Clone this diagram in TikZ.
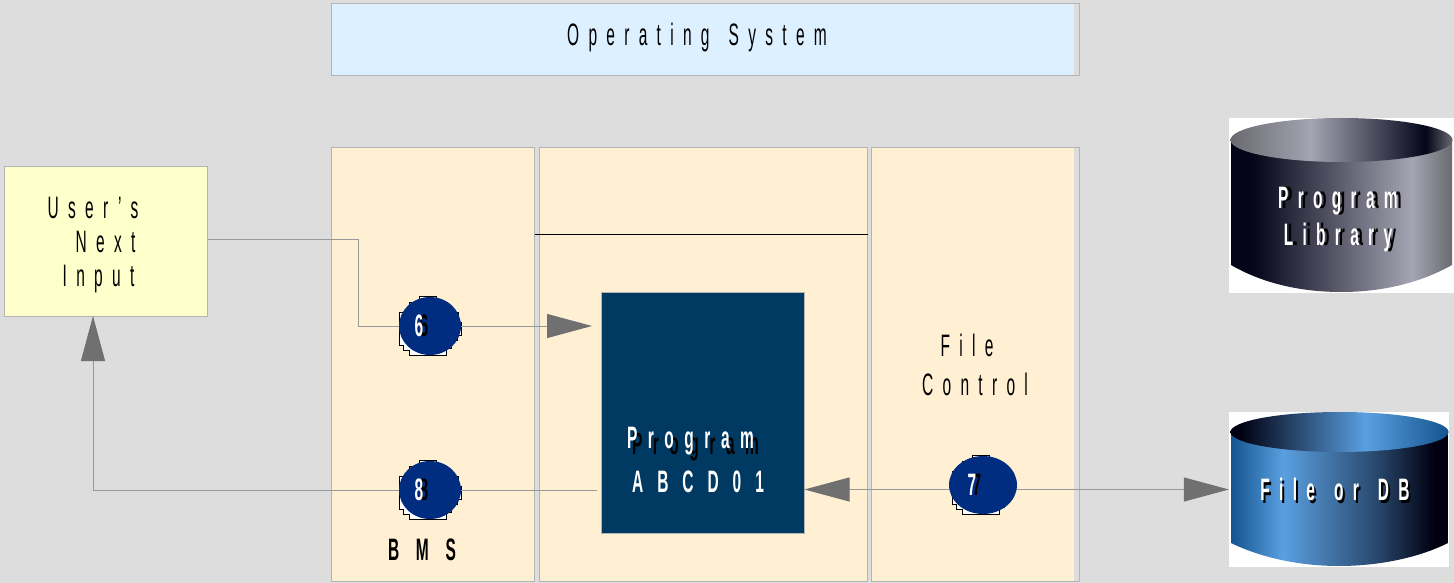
\documentclass[tikz,border=0pt]{standalone}
\usepackage{fontspec}
\usepackage{xcolor}
\usetikzlibrary{arrows.meta,shapes.geometric}
\setmainfont{Liberation Sans}[FakeStretch=0.5,LetterSpace=30,WordSpace=1.4]
\definecolor{pagegray}{HTML}{DDDDDD}
\definecolor{panelcream}{HTML}{FFF0D4}
\definecolor{panelline}{HTML}{B4B4B4}
\definecolor{osblue}{HTML}{DDF0FF}
\definecolor{inputyellow}{HTML}{FFFFCC}
\definecolor{progblue}{HTML}{003A63}
\definecolor{discblue}{HTML}{002D80}
\definecolor{flowline}{HTML}{999999}
\definecolor{tipgray}{HTML}{707070}
\definecolor{libdark}{HTML}{05051A}
\definecolor{liblight}{HTML}{A4A4B2}
\definecolor{libgray}{HTML}{6A6A70}
\definecolor{dbdark}{HTML}{000010}
\definecolor{dblight}{HTML}{5A9FE0}
\definecolor{dbmid}{HTML}{14548F}
\definecolor{dbslate}{HTML}{2A4A70}
\pgfdeclarehorizontalshading{libside}{100bp}{color(0bp)=(libdark); color(30bp)=(libdark); color(66bp)=(liblight); color(75bp)=(libgray); color(100bp)=(libgray)}
\pgfdeclarehorizontalshading{libtop}{100bp}{color(0bp)=(libgray); color(25bp)=(libgray); color(43bp)=(liblight); color(69bp)=(libdark); color(75bp)=(libgray); color(100bp)=(libgray)}
\pgfdeclarehorizontalshading{dbside}{100bp}{color(0bp)=(dbmid); color(25bp)=(dbmid); color(37bp)=(dblight); color(58bp)=(dbslate); color(72bp)=(dbdark); color(100bp)=(dbdark)}
\pgfdeclarehorizontalshading{dbtop}{100bp}{color(0bp)=(dbdark); color(27bp)=(dbdark); color(56bp)=(dblight); color(75bp)=(dbmid); color(100bp)=(dbmid)}
\newcommand{\dropped}[4]{\makebox[0pt][l]{\hspace{#1}\raisebox{#2}{\color{#3}#4}}{\color{white}#4}}
\newcommand{\discnode}[5][]{
  \draw[stairline, shift={(#3,#4)}] (-11,-30) -- (6,-30) -- (6,-25) -- (15,-25) -- (15,-19) -- (21,-19)
    -- (21,-14) -- (28,-14) -- (28,-4) -- (31,-4) -- (31,9) -- (27,9) -- (27,14) -- (21,14) -- (21,22)
    -- (16,22) -- (16,29) -- (-21,29) -- (-21,24) -- (-27,24) -- (-27,19) -- (-31,19) -- (-31,-14)
    -- (-21,-14) -- (-21,-24) -- (-11,-24) -- cycle;
  \node[disc, #1] (n#2) at (#3,#4) {\bfseries\dropped{5pt}{0pt}{black}{#5}\hspace{22pt}};}

\begin{document}
\begin{tikzpicture}[x=1pt, y=-1pt,
    every node/.style = {align=center, font=\fontsize{31}{34}\selectfont},
    panel/.style = {shape=rectangle, draw=panelline, line width=1pt, fill=panelcream, inner sep=0pt},
    edgestrip/.style = {path picture={\fill[pagegray] ([xshift=-5pt]path picture bounding box.north east) rectangle (path picture bounding box.south east);}},
    disc/.style = {shape=ellipse, fill=discblue, inner sep=0pt, minimum width=62pt, minimum height=58pt},
    stairline/.style = {draw=black, line width=0.7pt, fill=white},
    flow/.style = {draw=flowline, line width=1pt},
    tip/.style = {flow, -{Triangle[length=45pt, width=24pt, color=tipgray]}}]
    \useasboundingbox[fill=pagegray] (0,0) rectangle (1454,583);
    \node[panel, edgestrip, fill=osblue, minimum width=748pt, minimum height=72pt] (os) at (705,39.5) {};
    \node (ostxt) at (697,37) {Operating System};
    \node[panel, minimum width=203pt, minimum height=433pt] (bms) at (432.5,364.5) {};
    \node[panel, minimum width=328pt, minimum height=433pt] (main) at (703,364.5) {};
    \node[panel, edgestrip, minimum width=208pt, minimum height=433pt] (file) at (975,364.5) {};
    \node[shape=rectangle, draw=panelline, fill=inputyellow, line width=1pt, minimum width=203pt, minimum height=149pt] (usr) at (105.5,241.5) {};
    \node (usrtxt) at (105.5,245.5) {User's\hspace*{25pt}\\Next\hspace*{11pt}\\Input\hspace*{14pt}};
    \node[shape=rectangle, draw=panelline, fill=progblue, line width=1pt, minimum width=203pt, minimum height=241pt] (prog) at (702.5,412.5) {};
    \node (progtxt) at (698,460) {{\addfontfeatures{LetterSpace=34}\bfseries\dropped{5pt}{-6pt}{black}{Program}}\hspace*{15pt}\\[9pt]{\addfontfeatures{LetterSpace=45}\bfseries\color{white}ABCD01}};
    \node at (975,364.5) (filetxt) {File\hspace*{16pt}\\[5pt]Control};
    \node (bmstxt) at (422,550) {\addfontfeatures{LetterSpace=54}\bfseries BMS};
    \draw (bms.east |- 0,234) -- (main.east |- 0,234);
    \node[shape=rectangle, fill=white, inner sep=0pt, minimum width=225pt, minimum height=175pt] (lib) at (1341.5,205.5) {};
    \shade[shading=libside] (1231,141) -- (1231,265) .. controls (1262,283) and (1300,292) .. (1341,292) .. controls (1382,292) and (1420,283) .. (1452,265) -- (1452,141) -- cycle;
    \shade[shading=libtop] (1341.5,140) ellipse [x radius=111, y radius=22];
    \node (libtxt) at (1338,220) {\bfseries\dropped{4pt}{0pt}{black}{Program}\\[3pt]\bfseries\dropped{4pt}{0pt}{black}{Library}};
    \node[shape=rectangle, fill=white, inner sep=0pt, minimum width=220pt, minimum height=155pt] (fdb) at (1339,489.5) {};
    \shade[shading=dbside] (1231,432) -- (1231,543) .. controls (1262,558) and (1300,566) .. (1339,566) .. controls (1378,566) and (1418,558) .. (1448,543) -- (1448,432) -- cycle;
    \shade[shading=dbtop] (1339.5,432) ellipse [x radius=109, y radius=20];
    \node (fdbtxt) at (1335,491) {\bfseries\dropped{2pt}{-3pt}{black}{File or DB}};
    \discnode{6}{430}{326}{6}
    \discnode{8}{430}{490}{8}
    \discnode[minimum width=68pt]{7}{983}{485}{7}
    \coordinate (p6) at (592,326);
    \coordinate (p8) at (597,490);
    \coordinate (u8) at (93,316);
    \draw[flow] ([yshift=2.5pt]usr.east) -| (358,326) -- (n6.west);
    \draw[tip] (n6.east) -- (p6);
    \draw[flow] (p8) -- (n8.east);
    \draw[tip] (n8.west) -- (93,490) -- (u8);
    \draw[tip] (n7.west |- fdb.west) -- (fdb.west -| prog.east);
    \draw[tip] (n7.east |- fdb.west) -- (fdb.west);
  \end{tikzpicture}
\end{document}
